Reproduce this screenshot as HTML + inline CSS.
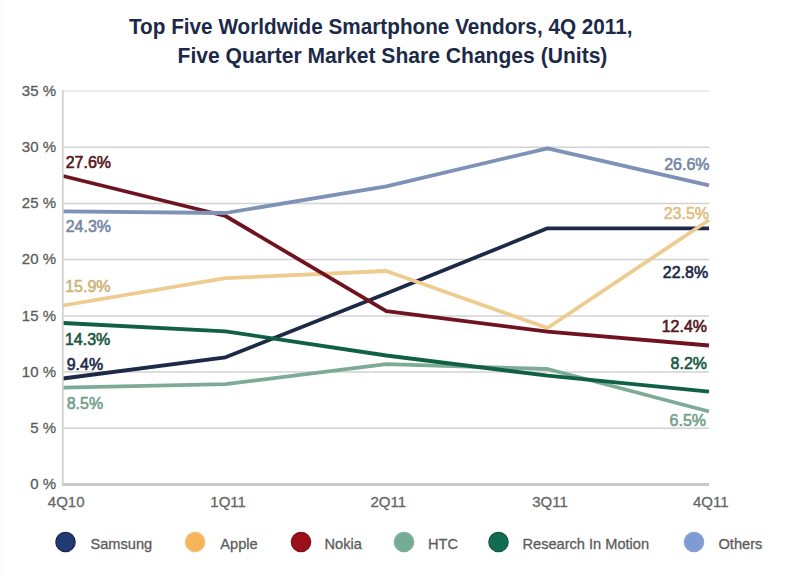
<!DOCTYPE html>
<html><head><meta charset="utf-8">
<style>
html,body{margin:0;padding:0;background:#fff;width:793px;height:576px;overflow:hidden}
svg{position:absolute;left:0;top:0;display:block}
text{font-family:"Liberation Sans",sans-serif}
</style></head>
<body>
<svg width="793" height="576" viewBox="0 0 793 576">
<rect x="0" y="0" width="793" height="576" fill="#fff"/>
<line x1="1.5" y1="0" x2="1.5" y2="576" stroke="#f5f5f5" stroke-width="1"/>
<g font-size="21" font-weight="700" fill="#1c2a48">
<text transform="translate(129 33.6) scale(1 1.02)" textLength="503.5" lengthAdjust="spacingAndGlyphs">Top Five Worldwide Smartphone Vendors, 4Q 2011,</text>
<text transform="translate(177.5 62.8) scale(1 1.02)" textLength="429.9" lengthAdjust="spacingAndGlyphs">Five Quarter Market Share Changes (Units)</text>
</g>
<g stroke="#d2d2d2" stroke-width="1.5" fill="none">
<line x1="63" y1="91" x2="709" y2="91" stroke="#e6e6e6"/>
<line x1="63" y1="147.3" x2="709" y2="147.3"/>
<line x1="63" y1="203.4" x2="709" y2="203.4"/>
<line x1="63" y1="259.6" x2="709" y2="259.6"/>
<line x1="63" y1="316" x2="709" y2="316"/>
<line x1="63" y1="372.1" x2="709" y2="372.1"/>
<line x1="63" y1="428.3" x2="709" y2="428.3"/>
</g>
<line x1="62" y1="484.5" x2="709" y2="484.5" stroke="#c8c8c8" stroke-width="3"/>
<g font-size="15" fill="#5c5c5c" stroke="#5c5c5c" stroke-width="0.3" text-anchor="end">
<text transform="translate(56 95.6) scale(1 1.02)" >35 %</text>
<text transform="translate(56 151.9) scale(1 1.02)" >30 %</text>
<text transform="translate(56 208.0) scale(1 1.02)" >25 %</text>
<text transform="translate(56 264.2) scale(1 1.02)" >20 %</text>
<text transform="translate(56 320.6) scale(1 1.02)" >15 %</text>
<text transform="translate(56 376.7) scale(1 1.02)" >10 %</text>
<text transform="translate(56 432.9) scale(1 1.02)" >5 %</text>
<text transform="translate(56 489.1) scale(1 1.02)" >0 %</text>
</g>
<g font-size="15" fill="#666" stroke="#666" stroke-width="0.3" text-anchor="middle">
<text transform="translate(66.2 507) scale(1 1.0)" >4Q10</text>
<text transform="translate(228.1 507) scale(1 1.0)" >1Q11</text>
<text transform="translate(388.3 507) scale(1 1.0)" >2Q11</text>
<text transform="translate(550 507) scale(1 1.0)" >3Q11</text>
<text transform="translate(710.8 507) scale(1 1.0)" >4Q11</text>
</g>
<g fill="none" stroke-width="3.8" stroke-linejoin="round">
<polyline stroke="#1c2a48" points="63,378.5 225.5,357.3 386.3,293.5 547.5,228.3 709,228.3"/>
<polyline stroke="#eecb8e" points="63,305.5 225.5,278.2 386.3,271 547.5,328 709,220"/>
<polyline stroke="#701320" points="63,176 225.5,216 386.3,311.2 547.5,331.7 709,345.5"/>
<polyline stroke="#7eab97" points="63,387.7 225.5,384.1 386.3,364.2 547.5,369 709,411.5"/>
<polyline stroke="#106046" points="63,323 225.5,331.3 386.3,355.5 547.5,375.7 709,391.6"/>
<polyline stroke="#7e91b7" points="63,211.4 225.5,213 386.3,186.3 547.5,148.3 709,185.4"/>
</g>
<line x1="62.8" y1="90" x2="62.8" y2="485" stroke="#d2d2d2" stroke-width="1.8"/>
<g font-size="16" font-weight="400" stroke-width="0.6">
<text transform="translate(65.7 167.5) scale(1 1.04)" fill="#561822" stroke="#561822">27.6%</text>
<text transform="translate(65.7 231.6) scale(1 1.04)" fill="#7887a8" stroke="#7887a8">24.3%</text>
<text transform="translate(65.2 291.8) scale(1 1.04)" fill="#cbb57c" stroke="#cbb57c">15.9%</text>
<text transform="translate(64.9 345) scale(1 1.04)" fill="#185842" stroke="#185842">14.3%</text>
<text transform="translate(66.7 370.1) scale(1 1.04)" fill="#1c2a48" stroke="#1c2a48">9.4%</text>
<text transform="translate(66.7 409) scale(1 1.04)" fill="#74a08c" stroke="#74a08c">8.5%</text>
</g>
<g font-size="16" font-weight="400" stroke-width="0.6" text-anchor="end">
<text transform="translate(709.5 170.4) scale(1 1.04)" fill="#7887a8" stroke="#7887a8">26.6%</text>
<text transform="translate(709 218.6) scale(1 1.04)" fill="#dcc084" stroke="#dcc084">23.5%</text>
<text transform="translate(708.2 278.1) scale(1 1.04)" fill="#1c2a48" stroke="#1c2a48">22.8%</text>
<text transform="translate(707 332) scale(1 1.04)" fill="#561822" stroke="#561822">12.4%</text>
<text transform="translate(707 368.6) scale(1 1.04)" fill="#185842" stroke="#185842">8.2%</text>
<text transform="translate(706 425.9) scale(1 1.04)" fill="#74a08c" stroke="#74a08c">6.5%</text>
</g>
<g>
<circle cx="65.5" cy="542" r="9.7" fill="#203a76" stroke="#1a2548" stroke-width="1.2"/>
<circle cx="195.1" cy="542" r="9.7" fill="#f7b45a" stroke="#f5c079" stroke-width="1.2"/>
<circle cx="301" cy="542" r="9.7" fill="#9a1018" stroke="#7a1018" stroke-width="1.2"/>
<circle cx="404" cy="542" r="9.7" fill="#74ad96" stroke="#7fb09c" stroke-width="1.2"/>
<circle cx="498.5" cy="542" r="9.7" fill="#136b52" stroke="#115a44" stroke-width="1.2"/>
<circle cx="694" cy="542" r="9.7" fill="#7f9bd3" stroke="#8aa2d3" stroke-width="1.2"/>
</g>
<g font-size="14.6" fill="#5c5c5c" stroke="#5c5c5c" stroke-width="0.3">
<text transform="translate(90.5 549) scale(1 1.03)" >Samsung</text>
<text transform="translate(220.3 549) scale(1 1.03)" >Apple</text>
<text transform="translate(324.5 549) scale(1 1.03)" >Nokia</text>
<text transform="translate(428 549) scale(1 1.03)" >HTC</text>
<text transform="translate(522.5 549) scale(1 1.03)" >Research In Motion</text>
<text transform="translate(718.5 549) scale(1 1.03)" >Others</text>
</g>
</svg>
</body></html>
